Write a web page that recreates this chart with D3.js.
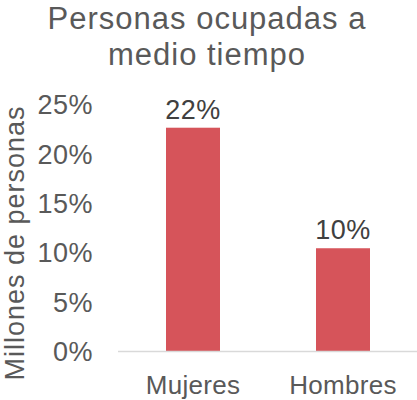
<!DOCTYPE html>
<html><head><meta charset="utf-8">
<script src="https://cdn.jsdelivr.net/npm/d3@7"></script>
<style>
html,body{margin:0;padding:0;background:#fff;}
svg{display:block;font-family:"Liberation Sans",Arial,sans-serif;}
</style></head>
<body><svg id="chart" width="417" height="400"></svg>
<script>
const titleLines = ["Personas ocupadas a", "medio tiempo"];
const categories = ["Mujeres", "Hombres"];
const values = [0.226, 0.104];
const valueLabels = ["22%", "10%"];
const yTicks = [0, 0.05, 0.10, 0.15, 0.20, 0.25];
const yTickLabels = ["0%", "5%", "10%", "15%", "20%", "25%"];
const yAxisTitle = "Millones de personas";

const svg = d3.select("#chart");
const x = d3.scaleBand().domain(categories).range([118, 418]).paddingInner(0.64).paddingOuter(0.32);
const y = d3.scaleLinear().domain([0, 0.25]).range([351, 104]);

// title
svg.append("g").selectAll("text").data(titleLines).join("text")
  .attr("x", 207).attr("y", (d, i) => 29 + i * 36)
  .attr("text-anchor", "middle")
  .attr("font-size", 31).attr("letter-spacing", "1px")
  .attr("fill", "#595959").text(d => d);

// y axis
const yAxis = d3.axisLeft(y).tickValues(yTicks).tickSize(0).tickPadding(0)
  .tickFormat((d, i) => yTickLabels[i]);
const gy = svg.append("g").attr("transform", "translate(93,0)").call(yAxis);
gy.select(".domain").remove();
gy.selectAll("text").attr("font-size", 27).attr("letter-spacing", "0.5px")
  .attr("fill", "#595959").attr("font-family", "Liberation Sans, Arial, sans-serif")
  .attr("dy", "0.36em");

// y axis title
svg.append("text")
  .attr("transform", "translate(24,243) rotate(-90)")
  .attr("text-anchor", "middle")
  .attr("font-size", 27).attr("letter-spacing", "1px")
  .attr("fill", "#595959").text(yAxisTitle);

// bars
svg.append("g").selectAll("rect").data(values).join("rect")
  .attr("x", (d, i) => x(categories[i]))
  .attr("width", x.bandwidth())
  .attr("y", d => y(d))
  .attr("height", d => y(0) - y(d))
  .attr("fill", "#d6545a");

// value labels
svg.append("g").selectAll("text").data(values).join("text")
  .attr("x", (d, i) => x(categories[i]) + x.bandwidth() / 2)
  .attr("y", d => y(d) - 9)
  .attr("text-anchor", "middle")
  .attr("font-size", 27).attr("letter-spacing", "0.5px")
  .attr("fill", "#404040").text((d, i) => valueLabels[i]);

// x axis
const xAxis = d3.axisBottom(x).tickSize(0).tickPadding(0);
const gx = svg.append("g").attr("transform", "translate(0,351)").call(xAxis);
gx.select(".domain").attr("d", "M118,0.5H417").attr("stroke", "#d9d9d9").attr("stroke-width", 1.5);
gx.selectAll("text").attr("font-size", 26).attr("letter-spacing", "0.3px")
  .attr("fill", "#595959").attr("font-family", "Liberation Sans, Arial, sans-serif")
  .attr("dy", 0).attr("y", 43);
</script></body></html>
